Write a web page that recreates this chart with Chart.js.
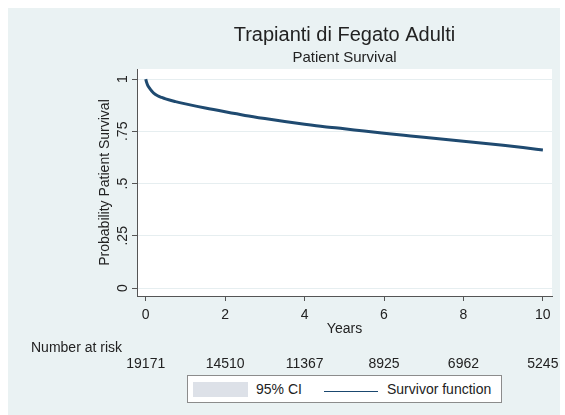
<!DOCTYPE html>
<html>
<head>
<meta charset="utf-8">
<script src="https://cdn.jsdelivr.net/npm/chart.js@4.4.1/dist/chart.umd.min.js"></script>
<style>
  body { margin: 0; background: #fff; font-family: "Liberation Sans", Arial, sans-serif; }
  #panel { position: absolute; left: 8px; top: 8px; width: 552px; height: 407px; background: #eaf2f3; }
  #wrap { position: absolute; left: 0; top: 0; width: 565px; height: 415px; }
  #legend { position: absolute; left: 187px; top: 375px; width: 313px; height: 26px; background: #fff;
            border: 1px solid #8c8c8c; font-size: 14px; color: #222; }
  #legend .sw { position: absolute; left: 5px; top: 6px; width: 55px; height: 15px; background: #dde1e8; }
  #legend .t1 { position: absolute; left: 68px; top: 5px; }
  #legend .ln { position: absolute; left: 136px; top: 15px; width: 54px; height: 1px; background: #1a476f; }
  #legend .t2 { position: absolute; left: 199px; top: 5px; }
</style>
</head>
<body>
<div id="panel"></div>
<div id="wrap"><canvas id="km-chart" width="565" height="415"></canvas></div>
<div id="legend">
  <div class="sw"></div><span class="t1">95% CI</span>
  <div class="ln"></div><span class="t2">Survivor function</span>
</div>
<script>
// survival curve
const years    = [0, 0.02, 0.05, 0.1, 0.15, 0.2, 0.3, 0.4, 0.5, 0.75, 1, 1.5, 2, 2.5, 3, 3.5, 4, 4.5, 5, 5.5, 6, 6.5, 7, 7.5, 8, 8.5, 9, 9.5, 10];
const survival = [1, 0.985, 0.97, 0.955, 0.943, 0.933, 0.92, 0.912, 0.905, 0.892, 0.881, 0.861, 0.843, 0.826, 0.811, 0.797, 0.784, 0.772, 0.762, 0.751, 0.741, 0.731, 0.721, 0.712, 0.702, 0.693, 0.683, 0.672, 0.66];
const ciUpper  = [1, 0.986, 0.971, 0.956, 0.944, 0.934, 0.921, 0.913, 0.906, 0.893, 0.883, 0.863, 0.845, 0.828, 0.813, 0.799, 0.787, 0.775, 0.765, 0.754, 0.744, 0.734, 0.724, 0.715, 0.705, 0.696, 0.687, 0.676, 0.665];
const ciLower  = [1, 0.984, 0.969, 0.954, 0.942, 0.932, 0.919, 0.911, 0.904, 0.891, 0.879, 0.859, 0.841, 0.824, 0.809, 0.795, 0.781, 0.769, 0.759, 0.748, 0.738, 0.728, 0.718, 0.709, 0.699, 0.69, 0.679, 0.668, 0.655];

// number at risk table
const riskYears = [0, 2, 4, 6, 8, 10];
const atRisk    = [19171, 14510, 11367, 8925, 6962, 5245];

// y tick labels
const yTicks      = [0, 0.25, 0.5, 0.75, 1];
const yTickLabels = ['0', '.25', '.5', '.75', '1'];

const textColor = '#222';
const fontFam = '"Liberation Sans", Arial, sans-serif';

function pts(ys) {
    return years.map((t, i) => ({ x: t, y: ys[i] }));
}

// draws plot background, titles, y labels and risk table
const extras = {
    id: 'extras',
    beforeDraw(chart) {
        const { ctx, chartArea: a } = chart;
        ctx.save();
        ctx.fillStyle = '#ffffff';
        ctx.fillRect(a.left, a.top, a.right - a.left, a.bottom - a.top);
        ctx.restore();
    },
    afterDraw(chart) {
        const { ctx, chartArea: a, scales } = chart;
        const cx = (a.left + a.right) / 2;
        ctx.save();
        ctx.fillStyle = textColor;
        ctx.textAlign = 'center';
        ctx.textBaseline = 'middle';
        ctx.font = '20px ' + fontFam;
        ctx.fillText('Trapianti di Fegato Adulti', cx, 35);
        ctx.font = '15px ' + fontFam;
        ctx.fillText('Patient Survival', cx, 58);

        // rotated y tick labels
        ctx.font = '14px ' + fontFam;
        yTicks.forEach((v, i) => {
            ctx.save();
            ctx.translate(123, scales.y.getPixelForValue(v));
            ctx.rotate(-Math.PI / 2);
            ctx.fillText(yTickLabels[i], 0, 0);
            ctx.restore();
        });

        // number at risk
        ctx.textAlign = 'left';
        ctx.fillText('Number at risk', 31, 348);
        ctx.textAlign = 'center';
        riskYears.forEach((t, i) => {
            ctx.fillText(String(atRisk[i]), scales.x.getPixelForValue(t), 364);
        });
        ctx.restore();
    }
};

const data = {
    datasets: [
        {
            data: pts(ciUpper),
            order: 2,
            borderWidth: 0,
            pointRadius: 0,
            backgroundColor: '#c9d2dd',
            cubicInterpolationMode: 'monotone',
            fill: '+1'
        },
        {
            data: pts(ciLower),
            order: 2,
            borderWidth: 0,
            pointRadius: 0,
            cubicInterpolationMode: 'monotone',
            fill: false
        },
        {
            data: pts(survival),
            order: 1,
            borderColor: '#1f4a70',
            borderWidth: 3,
            pointRadius: 0,
            cubicInterpolationMode: 'monotone',
            fill: false
        }
    ]
};

const config = {
    type: 'line',
    data,
    options: {
        responsive: false,
        animation: false,
        layout: { padding: { left: 93, top: 69, right: 13, bottom: 75 } },
        plugins: { legend: { display: false }, tooltip: { enabled: false } },
        scales: {
            x: {
                type: 'linear',
                min: -0.22,
                max: 10.23,
                afterBuildTicks: (s) => { s.ticks = riskYears.map(v => ({ value: v })); },
                afterFit: (s) => { s.height = 44; },
                ticks: { color: textColor, font: { size: 14, family: fontFam }, padding: 6 },
                grid: { drawOnChartArea: false, tickLength: 5, tickColor: '#555' },
                border: { color: '#555', width: 1 },
                title: { display: true, text: 'Years', color: textColor, font: { size: 14, family: fontFam }, padding: { top: 0, bottom: 2 } }
            },
            y: {
                min: -0.038,
                max: 1.048,
                afterBuildTicks: (s) => { s.ticks = yTicks.map(v => ({ value: v })); },
                afterFit: (s) => { s.width = 44; },
                ticks: { display: false },
                grid: { color: '#e6eef0', tickLength: 5, tickColor: '#555' },
                border: { color: '#555', width: 1 },
                title: { display: true, text: 'Probability Patient Survival', color: textColor, font: { size: 14, family: fontFam }, padding: { top: 4, bottom: 0 } }
            }
        }
    },
    plugins: [extras]
};

const kmChart = new Chart(document.getElementById('km-chart'), config);
</script>
</body>
</html>
